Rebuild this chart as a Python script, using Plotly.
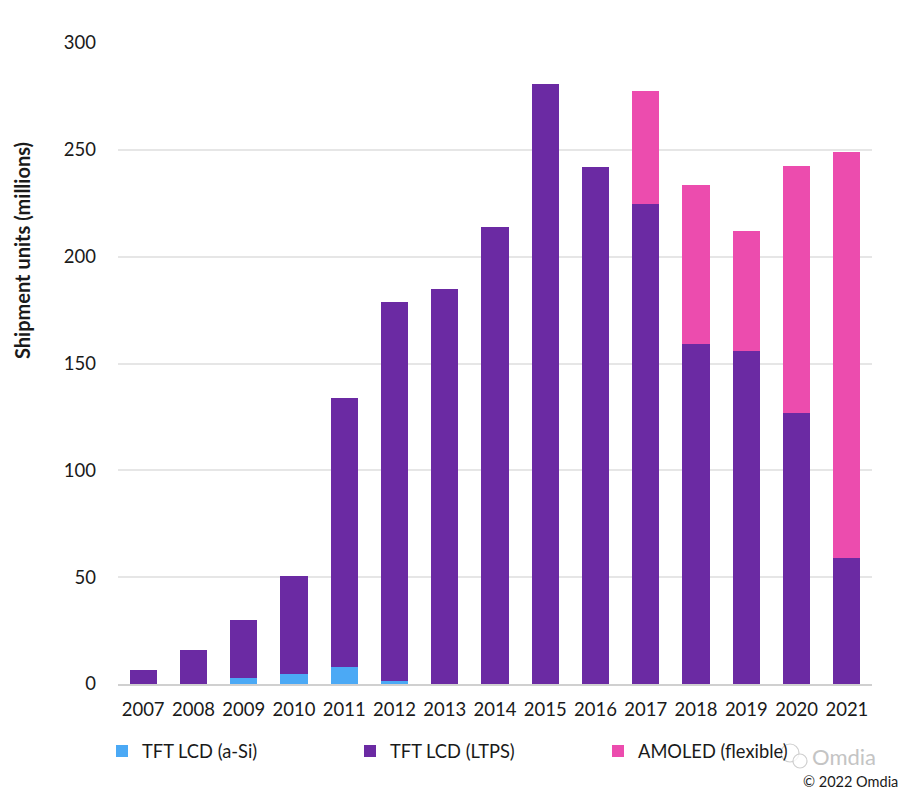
import plotly.graph_objects as go

years = ["2007","2008","2009","2010","2011","2012","2013","2014","2015","2016","2017","2018","2019","2020","2021"]
a_si = [0, 0, 3, 4.5, 8, 1.5, 0, 0, 0, 0, 0, 0, 0, 0, 0]
ltps = [6.5, 16, 27, 46, 126, 177.5, 185, 214, 281, 242, 224.5, 159, 156, 127, 59]
amoled = [0, 0, 0, 0, 0, 0, 0, 0, 0, 0, 53, 74.5, 56, 115.5, 190]
series = [("TFT LCD (a-Si)", a_si, "#4BA9F5"), ("TFT LCD (LTPS)", ltps, "#6B2AA3"), ("AMOLED (flexible)", amoled, "#EC4CAE")]
FONT = "Lato"
TXT = "#1a1a1a"

def px(v):
    return (v - 118) / 754
def py(v):
    return (684 - v) / 641

fig = go.Figure()
for name, vals, col in series:
    fig.add_trace(go.Bar(x=years, y=vals, name=name, marker=dict(color=col, line_width=0),
                         legendgroup=name, showlegend=False, width=0.54))
    fig.add_trace(go.Scatter(x=[years[0]], y=[None], mode="markers", name=name, legendgroup=name,
                             marker=dict(symbol="square", size=12, color=col), hoverinfo="skip"))

def ring(cx, cy, r):
    return dict(type="circle", xref="paper", yref="paper", x0=px(cx - r), x1=px(cx + r),
                y0=py(cy + r), y1=py(cy - r), line=dict(color="#CFCFCF", width=1.2),
                fillcolor="rgba(255,255,255,0.8)", layer="above")

fig.update_layout(
    width=892, height=786, autosize=False, barmode="stack", bargap=0.46,
    paper_bgcolor="white", plot_bgcolor="white",
    margin=dict(l=110, r=28, t=35, b=110),
    font=dict(family=FONT, size=18, color=TXT),
    legend=dict(orientation="h", x=-7/754, xanchor="left", y=-0.1045, yanchor="middle",
                entrywidth=212, entrywidthmode="pixels", indentation=-9,
                font=dict(family=FONT, size=18.3, color=TXT), bgcolor="rgba(0,0,0,0)",
                traceorder="normal"),
    xaxis=dict(type="category", range=[-0.5, 14.5], showgrid=False, ticks="", showline=True,
               linecolor="#D0D0D0", linewidth=2, automargin=False,
               tickfont=dict(family=FONT, size=18.5, color=TXT), ticklabelstandoff=8),
    yaxis=dict(range=[0, 300], dtick=50, gridcolor="#E6E6E6", gridwidth=2, zeroline=False, showline=False,
               ticks="", automargin=False, tickfont=dict(family=FONT, size=18.5, color=TXT), ticklabelstandoff=21),
    shapes=[ring(790, 753, 9), ring(800, 761, 7)],
    annotations=[
        dict(text="<b>Shipment units (millions)</b>", xref="paper", yref="paper", x=px(22), y=py(251),
             textangle=-90, xanchor="center", yanchor="middle", showarrow=False,
             font=dict(family=FONT, size=20, color=TXT)),
        dict(text="Omdia", xref="paper", yref="paper", x=1.0, xanchor="left", xshift=-62, y=0, yshift=-72,
             yanchor="middle", showarrow=False, font=dict(family=FONT, size=22, color="#C4C4C4")),
        dict(text="© 2022 Omdia", xref="paper", yref="paper", x=1.0, xanchor="right", xshift=28, y=0, yshift=-97,
             yanchor="middle", showarrow=False, font=dict(family=FONT, size=14.5, color=TXT)),
    ],
)
fig.write_html("out.html")
